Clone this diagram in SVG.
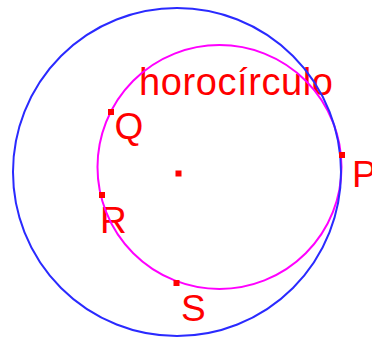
<svg xmlns="http://www.w3.org/2000/svg" width="372" height="340" viewBox="0 0 372 340">
<style>
.lbl{font-family:"Liberation Sans",Arial,sans-serif;font-size:37px;fill:#ff0000}
.pt{fill:#ff0000}
.c{fill:none;stroke-width:2}
</style>
<rect width="372" height="340" fill="#ffffff"/>
<g id="labels">
<text class="lbl" x="139" y="95" style="font-size:38px;letter-spacing:0.6px">horocírculo</text>
<text class="lbl" x="114.5" y="139">Q</text>
<text class="lbl" x="100" y="233">R</text>
<text class="lbl" x="181" y="321">S</text>
<text class="lbl" x="352" y="187">P</text>
</g>
<g id="horocircle"><circle class="c" cx="219.5" cy="167" r="122" stroke="#ff00ff"/></g>
<g id="boundary"><circle class="c" cx="177" cy="172" r="164" stroke="#2a2aff"/></g>
<g id="points">
<rect id="center" class="pt" x="175.5" y="170.5" width="6" height="6"/>
<rect id="P" class="pt" x="339" y="152" width="6" height="6"/>
<rect id="Q" class="pt" x="108" y="109" width="6" height="6"/>
<rect id="R" class="pt" x="99" y="192" width="6" height="6"/>
<rect id="S" class="pt" x="173.5" y="280" width="6" height="6"/>
</g>
</svg>
